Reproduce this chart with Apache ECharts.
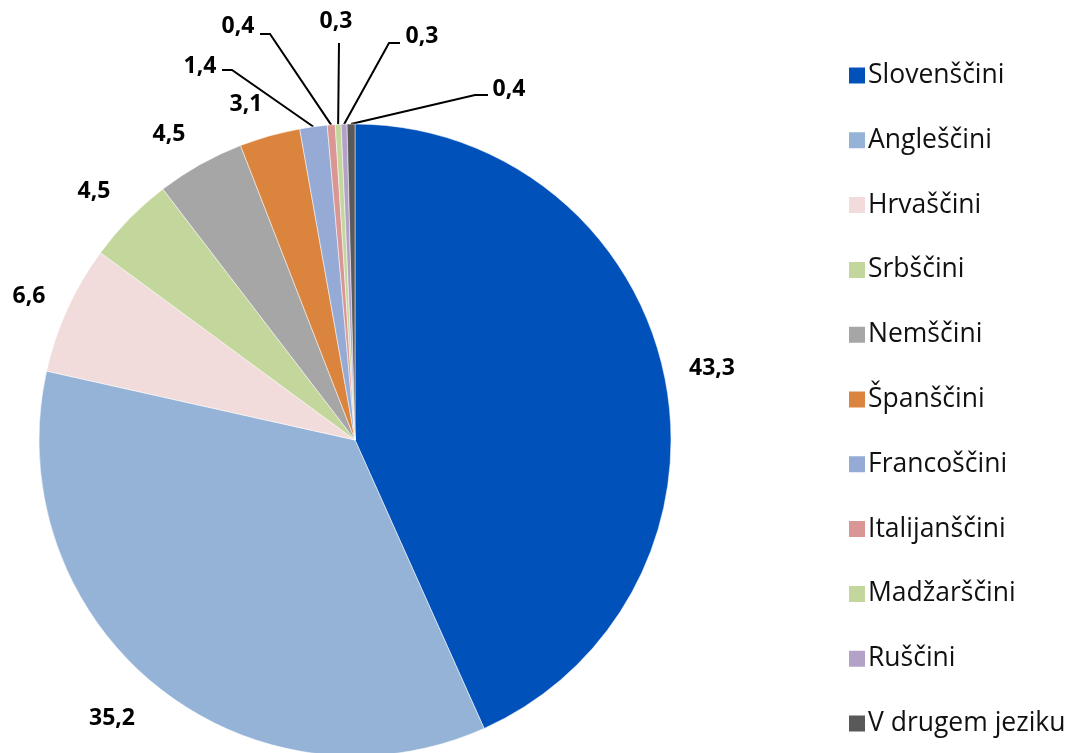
<!DOCTYPE html>
<html>
<head>
<meta charset="utf-8">
<script src="https://cdn.jsdelivr.net/npm/echarts@6/dist/echarts.min.js"></script>
<style>
  html, body { margin: 0; padding: 0; background: #fff; }
  #chart { width: 1078px; height: 753px; }
</style>
</head>
<body>
<div id="chart"></div>
<script>
// ---- data ----
const categories = ['Slovenščini', 'Angleščini', 'Hrvaščini', 'Srbščini', 'Nemščini', 'Španščini',
  'Francoščini', 'Italijanščini', 'Madžarščini', 'Ruščini', 'V drugem jeziku'];
const values = [43.3, 35.2, 6.6, 4.5, 4.5, 3.1, 1.4, 0.4, 0.3, 0.3, 0.4];

// ---- styles ----
const colors = ['#0052BA', '#95B3D7', '#F2DCDB', '#C3D69B', '#A6A6A6', '#DB843D',
  '#95ABD6', '#D99694', '#C3D69B', '#B3A2C7', '#595959'];
// label anchor (centre) positions and leader-line elbows
const labelPos = [
  [712, 368], [112, 718], [29, 296], [94, 191], [169, 134], [246, 104],
  [200, 66], [238, 26], [336, 21], [422, 36], [509, 89]
];
const elbows = [
  null, null, null, null, null, null,
  [[232, 70], [222, 70]],
  [[270, 34], [260, 34]],
  [[339, 43]],
  [[389, 43], [400, 43]],
  [[475, 95], [488, 95]]
];

const fmt = v => v.toFixed(1).replace('.', ',');

const chart = echarts.init(document.getElementById('chart'), null, { renderer: 'canvas' });
chart.setOption({
  animation: false,
  color: colors,
  legend: {
    orient: 'vertical',
    left: 842,
    top: 57,
    itemWidth: 18,
    itemHeight: 18,
    itemGap: 37.8,
    icon: 'rect',
    textStyle: { fontFamily: 'Open Sans', fontSize: 26.5, color: '#111', lineHeight: 26, padding: [0, 0, 0, -3] },
    data: categories
  },
  series: [{
    type: 'pie',
    center: [355, 440],
    radius: 316,
    startAngle: 90,
    clockwise: true,
    avoidLabelOverlap: false,
    data: categories.map((c, i) => ({
      name: c,
      value: values[i],
      labelLine: { show: elbows[i] !== null }
    })),
    itemStyle: { borderColor: '#fff', borderWidth: 0.5 },
    label: {
      show: true,
      position: 'outside',
      formatter: p => fmt(p.value),
      fontFamily: 'Open Sans',
      fontWeight: 'bold',
      fontSize: 23,
      color: '#000'
    },
    labelLine: {
      show: true,
      length: 20,
      length2: 10,
      lineStyle: { color: '#000', width: 2 }
    },
    labelLayout: function (params) {
      const i = params.dataIndex;
      const p = labelPos[i];
      const res = { x: p[0], y: p[1], align: 'center', verticalAlign: 'middle' };
      if (elbows[i] && params.labelLinePoints) {
        res.labelLinePoints = [params.labelLinePoints[0]].concat(elbows[i]);
      }
      return res;
    },
    emphasis: { disabled: true }
  }]
});
</script>
</body>
</html>
